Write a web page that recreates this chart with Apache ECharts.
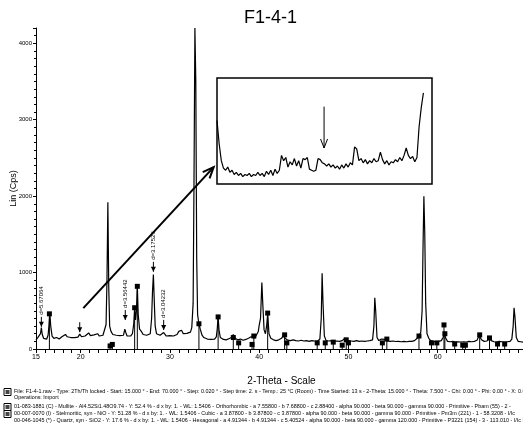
<!DOCTYPE html>
<html>
<head>
<meta charset="utf-8">
<title>F1-4-1</title>
<script src="https://cdn.jsdelivr.net/npm/echarts@6/dist/echarts.min.js"></script>
<style>
  html, body { margin: 0; padding: 0; background: #fff; }
  #chart { width: 523px; height: 434px; }
</style>
</head>
<body>
<div id="chart"></div>
<script>
// measured scan, [2-theta, Lin (Cps)]
const scan = [
  [15.0, 120], [15.2, 150], [15.4, 140], [15.5, 200], [15.6, 280], [15.7, 190], [15.85, 140], [16.0, 150],
  [16.2, 130], [16.35, 180], [16.45, 300], [16.55, 470], [16.65, 300], [16.8, 170], [17.0, 140], [17.3, 150],
  [17.6, 130], [17.9, 160], [18.1, 150], [18.3, 190], [18.5, 160], [18.7, 180], [18.9, 150], [19.1, 170],
  [19.3, 150], [19.5, 165], [19.7, 155], [19.9, 195], [20.1, 160], [20.3, 150], [20.5, 170], [20.7, 160],
  [20.9, 210], [21.1, 175], [21.3, 160], [21.5, 185], [21.7, 165], [21.9, 200], [22.1, 170], [22.3, 160],
  [22.5, 180], [22.7, 200], [22.85, 320], [22.95, 900], [23.05, 1920], [23.15, 800], [23.25, 300], [23.4, 230],
  [23.6, 190], [23.8, 170], [24.0, 180], [24.2, 165], [24.4, 175], [24.6, 160], [24.8, 180], [24.95, 260],
  [25.05, 220], [25.2, 170], [25.4, 180], [25.6, 170], [25.8, 200], [25.95, 330], [26.05, 540], [26.15, 380],
  [26.25, 500], [26.35, 820], [26.45, 450], [26.6, 260], [26.8, 230], [27.0, 190], [27.2, 170], [27.4, 180],
  [27.6, 165], [27.8, 200], [27.95, 400], [28.05, 750], [28.15, 975], [28.25, 620], [28.35, 300], [28.5, 200],
  [28.7, 175], [28.9, 180], [29.1, 190], [29.3, 215], [29.45, 190], [29.6, 170], [29.8, 165], [30.0, 175],
  [30.2, 160], [30.4, 170], [30.6, 165], [30.8, 190], [31.0, 230], [31.15, 210], [31.3, 245], [31.5, 200],
  [31.7, 190], [31.9, 205], [32.1, 200], [32.3, 220], [32.45, 280], [32.6, 600], [32.7, 2200], [32.8, 4200],
  [32.9, 3500], [33.0, 1200], [33.1, 450], [33.25, 330], [33.4, 260], [33.6, 180], [33.8, 150], [34.0, 140],
  [34.2, 130], [34.4, 145], [34.6, 125], [34.8, 135], [35.0, 130], [35.2, 160], [35.3, 260], [35.4, 420],
  [35.5, 250], [35.65, 150], [35.8, 130], [36.0, 125], [36.3, 120], [36.6, 135], [36.9, 150], [37.1, 190],
  [37.3, 140], [37.6, 120], [37.9, 130], [38.2, 115], [38.5, 125], [38.8, 140], [39.1, 160], [39.3, 180],
  [39.5, 140], [39.7, 150], [39.9, 230], [40.0, 310], [40.15, 400], [40.3, 870], [40.4, 600], [40.55, 250],
  [40.7, 200], [40.85, 320], [40.95, 460], [41.1, 200], [41.3, 140], [41.6, 120], [41.9, 110], [42.2, 120],
  [42.5, 140], [42.7, 175], [42.9, 140], [43.2, 115], [43.5, 110], [43.8, 120], [44.1, 110], [44.4, 105],
  [44.7, 115], [45.0, 105], [45.3, 110], [45.6, 100], [45.9, 110], [46.2, 105], [46.5, 100], [46.8, 130],
  [46.95, 400], [47.05, 990], [47.15, 600], [47.3, 170], [47.5, 110], [47.8, 105], [48.1, 110], [48.4, 100],
  [48.7, 105], [49.0, 100], [49.3, 110], [49.6, 140], [49.8, 145], [50.0, 110], [50.3, 105], [50.6, 100],
  [50.9, 110], [51.2, 100], [51.5, 105], [51.8, 100], [52.1, 105], [52.4, 110], [52.7, 120], [52.85, 300],
  [52.95, 670], [53.05, 500], [53.2, 150], [53.4, 110], [53.7, 130], [53.9, 145], [54.1, 125], [54.4, 105],
  [54.7, 100], [55.0, 105], [55.3, 98], [55.6, 100], [55.9, 95], [56.2, 100], [56.5, 95], [56.8, 100],
  [57.1, 100], [57.4, 110], [57.7, 140], [57.9, 170], [58.1, 220], [58.25, 500], [58.35, 1300], [58.45, 2000],
  [58.55, 1500], [58.65, 600], [58.8, 200], [59.0, 140], [59.2, 110], [59.5, 100], [59.8, 95], [60.1, 100],
  [60.4, 110], [60.6, 150], [60.75, 200], [60.9, 140], [61.1, 100], [61.4, 95], [61.7, 100], [62.0, 92],
  [62.3, 95], [62.6, 90], [62.9, 95], [63.2, 90], [63.5, 100], [63.8, 95], [64.1, 100], [64.4, 115],
  [64.65, 180], [64.9, 120], [65.2, 100], [65.5, 105], [65.8, 140], [66.0, 110], [66.3, 95], [66.6, 90],
  [66.9, 100], [67.2, 95], [67.5, 90], [67.8, 95], [68.1, 100], [68.3, 130], [68.45, 300], [68.55, 540],
  [68.65, 420], [68.8, 150], [69.0, 100], [69.3, 95], [69.6, 90], [70.0, 95]
]

// reference pattern sticks, [2-theta, intensity]
const sticks = [
  [16.5, 460], [23.3, 40], [23.55, 60], [26.05, 540], [26.35, 820], [33.25, 330], [35.4, 420],
  [37.1, 150], [37.7, 80], [39.2, 60], [39.4, 170], [40.95, 470], [42.85, 185], [43.1, 80],
  [46.5, 80], [47.4, 80], [48.3, 90], [49.3, 50], [49.75, 120], [50.0, 80], [53.8, 80], [54.3, 130],
  [57.9, 170], [59.3, 80], [59.9, 80], [60.7, 315], [60.8, 200], [61.9, 65], [62.8, 50], [63.1, 50],
  [64.7, 185], [65.8, 145], [66.7, 65], [67.5, 65]
]

// d-value markers, [2-theta, arrow tip, label]
const peakNotes = [
  [15.6, 290, 'd=5.67064'],
  [19.9, 220, ''],
  [25.0, 380, 'd=3.56442'],
  [28.15, 1010, 'd=3.17526'],
  [29.3, 250, 'd=3.04232']
]

// arrow pointing at the zoomed view
const zoomArrow = [[20.3, 535], [34.9, 2380]]

// zoomed background, one value per step
const insetLin = [
  60, 38, 22, 15, 13, 16, 11, 13, 9, 11, 8, 10, 7, 9, 8, 10, 7, 9, 8, 11,
  8, 10, 7, 12, 9, 13, 8, 14, 10, 13, 27, 22, 25, 16, 21, 18, 24, 17, 22, 15,
  24, 23, 25, 14, 13, 12, 13, 24, 23, 20, 19, 17, 19, 16, 18, 15, 17, 14, 18, 15,
  19, 16, 20, 18, 35, 33, 22, 24, 20, 23, 19, 22, 20, 24, 21, 22, 30, 23, 19, 22,
  18, 21, 20, 23, 21, 25, 22, 27, 34, 27, 24, 26, 21, 25, 54, 72, 86
]
const insetArrow = [[49.8, 73], [49.8, 34]]

const xTickLabels = [15, 20, 30, 40, 50, 60, 70]
const yTickLabels = [0, 1000, 2000, 3000, 4000]
const xTicks = []
for (let t = 15; t <= 70; t++) xTicks.push(t)

const legendLines = [
  'File: F1-4-1.raw - Type: 2Th/Th locked - Start: 15.000 ° - End: 70.000 ° - Step: 0.020 ° - Step time: 2. s - Temp.: 25 °C (Room) - Time Started: 13 s - 2-Theta: 15.000 ° - Theta: 7.500 ° - Chi: 0.00 ° - Phi: 0.00 ° - X: 0.0 mm',
  'Operations: Import',
  '01-083-1881 (C) - Mullite - Al4.52Si1.48O9.74 - Y: 52.4 % - d x by: 1. - WL: 1.5406 - Orthorhombic - a 7.55800 - b 7.68800 - c 2.88400 - alpha 90.000 - beta 90.000 - gamma 90.000 - Primitive - Pbam (55) - 2 -',
  '00-007-0070 (I) - Stelmoritic, syn - NiO - Y: 51.28 % - d x by: 1. - WL: 1.5406 - Cubic - a 3.87800 - b 3.87800 - c 3.87800 - alpha 90.000 - beta 90.000 - gamma 90.000 - Primitive - Pm3m (221) - 1 - 58.3208 - I/Ic',
  '00-046-1045 (*) - Quartz, syn - SiO2 - Y: 17.6 % - d x by: 1. - WL: 1.5406 - Hexagonal - a 4.91344 - b 4.91344 - c 5.40524 - alpha 90.000 - beta 90.000 - gamma 120.000 - Primitive - P3221 (154) - 3 - 113.010 - I/Ic PD'
]
const legendY = [392, 398, 407, 414, 421]
const legendIcons = [0, 2, 3]

const FONT = 'Liberation Sans, Arial, sans-serif'

function vArrow (x, yTail, yTip) {
  return [
    { type: 'line', shape: { x1: x, y1: yTail, x2: x, y2: yTip }, style: { stroke: '#000', lineWidth: 1 } },
    { type: 'polygon', shape: { points: [[x - 2.5, yTip - 5], [x + 2.5, yTip - 5], [x, yTip]] }, style: { fill: '#000' } }
  ]
}

function renderNote (params, api) {
  const p = api.coord([api.value(0), api.value(1)])
  const label = peakNotes[params.dataIndex][2]
  const children = vArrow(p[0], p[1] - 10, p[1])
  if (label) {
    children.push({
      type: 'text', x: p[0], y: p[1] - 12, rotation: Math.PI / 2,
      style: { text: label, fontSize: 6, fontFamily: FONT, fill: '#000', align: 'left', verticalAlign: 'middle' }
    })
  }
  return { type: 'group', children }
}

function renderStick (params, api) {
  const base = api.coord([api.value(0), 0])
  const top = api.coord([api.value(0), api.value(1)])
  return {
    type: 'group',
    children: [
      { type: 'line', shape: { x1: base[0], y1: base[1], x2: top[0], y2: top[1] }, style: { stroke: '#000', lineWidth: 1 } },
      { type: 'rect', shape: { x: top[0] - 2.5, y: top[1] - 2.5, width: 5, height: 5 }, style: { fill: '#000' } }
    ]
  }
}

// open V head at the end of a segment
function renderLongArrow (params, api) {
  const a = api.coord(zoomArrow[0])
  const b = api.coord(zoomArrow[1])
  const ang = Math.atan2(b[1] - a[1], b[0] - a[0])
  const len = 12
  const h1 = [b[0] - len * Math.cos(ang - 0.4), b[1] - len * Math.sin(ang - 0.4)]
  const h2 = [b[0] - len * Math.cos(ang + 0.4), b[1] - len * Math.sin(ang + 0.4)]
  return {
    type: 'group',
    children: [
      { type: 'line', shape: { x1: a[0], y1: a[1], x2: b[0], y2: b[1] }, style: { stroke: '#000', lineWidth: 2 } },
      { type: 'polyline', shape: { points: [h1, b, h2] }, style: { stroke: '#000', lineWidth: 2, fill: null } }
    ]
  }
}

function renderInsetArrow (params, api) {
  const a = api.coord(insetArrow[0])
  const b = api.coord(insetArrow[1])
  return {
    type: 'group',
    children: [
      { type: 'line', shape: { x1: a[0], y1: a[1], x2: b[0], y2: b[1] }, style: { stroke: '#000', lineWidth: 1 } },
      { type: 'polyline', shape: { points: [[b[0] - 3.5, b[1] - 9], [b[0], b[1]], [b[0] + 3.5, b[1] - 9]] }, style: { stroke: '#000', lineWidth: 1, fill: null } }
    ]
  }
}

const graphics = [
  { type: 'text', left: 244, top: 9, style: { text: 'F1-4-1', fontSize: 18, fontFamily: FONT, fill: '#000' } }
]
legendLines.forEach((line, i) => {
  graphics.push({ type: 'text', x: 14, y: legendY[i], style: { text: line, fontSize: 5.4, fontFamily: FONT, fill: '#000', verticalAlign: 'middle' } })
})
legendIcons.forEach(i => {
  graphics.push({ type: 'rect', shape: { x: 4, y: legendY[i] - 3.5, width: 7, height: 7 }, style: { fill: '#fff', stroke: '#000', lineWidth: 1 } })
  graphics.push({ type: 'rect', shape: { x: 5.5, y: legendY[i] - 2, width: 4, height: 4 }, style: { fill: '#444' } })
})

const chart = echarts.init(document.getElementById('chart'), null, { renderer: 'canvas' })
chart.setOption({
  animation: false,
  backgroundColor: '#fff',
  graphic: graphics,
  grid: [
    { left: 36, top: 28, right: -4, bottom: 85, outerBoundsMode: 'none', containLabel: false },
    { left: 217, top: 78, width: 215, height: 106, outerBoundsMode: 'none', containLabel: false, show: true, borderColor: '#000', borderWidth: 1.5, backgroundColor: '#fff', z: 5 }
  ],
  xAxis: [
    {
      type: 'value', gridIndex: 0, min: 15, max: 70,
      name: '2-Theta - Scale', nameLocation: 'middle', nameGap: 27, nameMoveOverlap: false,
      nameTextStyle: { fontSize: 10, fontFamily: FONT, color: '#000' },
      axisLine: { lineStyle: { color: '#000', width: 1 } },
      axisTick: { customValues: xTicks, length: 4, lineStyle: { color: '#000' } },
      axisLabel: { customValues: xTickLabels, fontSize: 7, fontFamily: FONT, color: '#000', margin: 5 },
      splitLine: { show: false }
    },
    { type: 'value', gridIndex: 1, min: 0, max: 100, show: false }
  ],
  yAxis: [
    {
      type: 'value', gridIndex: 0, min: 0, max: 4200, interval: 1000,
      name: 'Lin (Cps)', nameLocation: 'middle', nameGap: 18, nameMoveOverlap: false,
      nameTextStyle: { fontSize: 9, fontFamily: FONT, color: '#000' },
      axisLine: { show: true, lineStyle: { color: '#000', width: 1 } },
      axisTick: { show: true, length: 3, lineStyle: { color: '#000' } },
      minorTick: { show: true, splitNumber: 10, length: 2, lineStyle: { color: '#000' } },
      axisLabel: { customValues: yTickLabels, formatter: v => String(v), fontSize: 6, fontFamily: FONT, color: '#000', margin: 4 },
      splitLine: { show: false }
    },
    { type: 'value', gridIndex: 1, min: 0, max: 100, show: false }
  ],
  series: [
    {
      type: 'custom', xAxisIndex: 0, yAxisIndex: 0, renderItem: renderStick, data: sticks, z: 2, silent: true
    },
    {
      type: 'line', xAxisIndex: 0, yAxisIndex: 0, data: scan, showSymbol: false,
      lineStyle: { color: '#000', width: 1.2 }, z: 3, silent: true
    },
    {
      type: 'custom', xAxisIndex: 0, yAxisIndex: 0, renderItem: renderNote,
      data: peakNotes.map(n => [n[0], n[1]]), z: 4, clip: false, silent: true
    },
    {
      type: 'custom', xAxisIndex: 0, yAxisIndex: 0, renderItem: renderLongArrow,
      data: [zoomArrow[0]], z: 4, clip: false, silent: true
    },
    {
      type: 'line', xAxisIndex: 1, yAxisIndex: 1, data: insetLin.map((v, i) => [i, v]), showSymbol: false,
      lineStyle: { color: '#000', width: 1.2 }, z: 10, silent: true
    },
    {
      type: 'custom', xAxisIndex: 1, yAxisIndex: 1, renderItem: renderInsetArrow,
      data: [insetArrow[0]], z: 10, clip: false, silent: true
    }
  ]
})
</script>
</body>
</html>
